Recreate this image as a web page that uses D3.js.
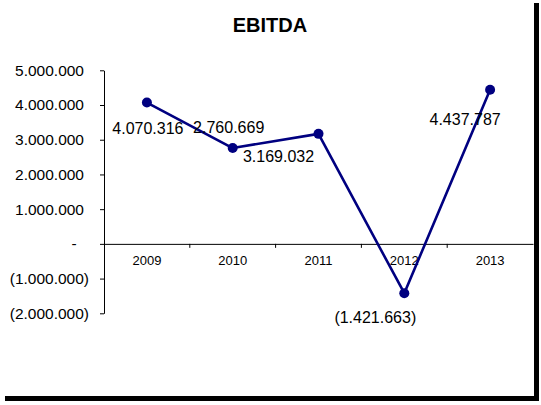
<!DOCTYPE html>
<html>
<head>
<meta charset="utf-8">
<script src="https://cdn.jsdelivr.net/npm/d3@7"></script>
<style>
  html, body { margin: 0; padding: 0; background: #fff; }
  svg { display: block; }
  text { font-family: "Liberation Sans", Arial, sans-serif; fill: #000; }
</style>
</head>
<body>
<svg id="chart" width="541" height="405"></svg>
<script>
// EBITDA per year
const years = ["2009", "2010", "2011", "2012", "2013"];
const ebitda = [4070316, 2760669, 3169032, -1421663, 4437787];
const yTicks = [5000000, 4000000, 3000000, 2000000, 1000000, 0, -1000000, -2000000];
const chartTitle = "EBITDA";

const svg = d3.select("#chart");

// chart area with drop shadow
svg.append("rect").attr("x", 5).attr("y", 3).attr("width", 534).attr("height", 398).attr("fill", "#000");
svg.append("rect").attr("x", 0).attr("y", 0).attr("width", 534).attr("height", 396).attr("fill", "#fff");

const plot = { left: 104, right: 533, top: 70.3, bottom: 313.3 };

const x = d3.scaleBand().domain(years).range([plot.left, plot.right]).padding(0);
const y = d3.scaleLinear().domain([-2000000, 5000000]).range([plot.bottom, plot.top]);

// accounting-style number format: 1.000.000, (1.000.000), -
const thousands = d3.formatLocale({ decimal: ",", thousands: ".", grouping: [3], currency: ["", ""] }).format(",.0f");
function acct(v) {
  if (v === 0) return "-";
  return v < 0 ? "(" + thousands(-v) + ")" : thousands(v);
}

// title
svg.append("text")
  .attr("x", 270).attr("y", 32)
  .attr("text-anchor", "middle")
  .style("font-size", "20px").style("font-weight", "bold")
  .text(chartTitle);

// y axis
const yAxis = d3.axisLeft(y).tickValues(yTicks).tickSize(4).tickSizeOuter(0).tickFormat("");
const gy = svg.append("g").attr("transform", `translate(${plot.left},0)`).call(yAxis);
gy.select(".domain").attr("stroke", "#000").attr("stroke-width", 1);
gy.selectAll(".tick line").attr("stroke", "#000");

// y tick labels with accounting alignment
svg.append("g").selectAll("text")
  .data(yTicks)
  .join("text")
  .attr("x", d => d === 0 ? 74 : (d < 0 ? 89 : 84))
  .attr("y", d => y(d))
  .attr("dy", "0.35em")
  .attr("text-anchor", d => d === 0 ? "middle" : "end")
  .style("font-size", "15.5px")
  .text(acct);

// x axis at zero
const xAxis = d3.axisBottom(x).tickSize(0).tickSizeOuter(0);
const gx = svg.append("g").attr("transform", `translate(0,${y(0)})`).call(xAxis);
gx.select(".domain").attr("stroke", "#000").attr("stroke-width", 1);
gx.selectAll(".tick text")
  .attr("y", 12)
  .style("font-size", "13px")
  .style("font-family", "'Liberation Sans', Arial, sans-serif");

// tick marks between categories
gx.selectAll(".sep")
  .data(years.slice(1))
  .join("line")
  .attr("class", "sep")
  .attr("x1", d => x(d)).attr("x2", d => x(d))
  .attr("y1", 0).attr("y2", 4)
  .attr("stroke", "#000");

const cx = (d, i) => x(years[i]) + x.bandwidth() / 2;

// line
const line = d3.line().x((d, i) => cx(d, i)).y(d => y(d));
svg.append("path")
  .datum(ebitda)
  .attr("d", line)
  .attr("fill", "none")
  .attr("stroke", "#000080")
  .attr("stroke-width", 2.6)
  .attr("stroke-linejoin", "round");

// markers
svg.append("g").selectAll("circle")
  .data(ebitda)
  .join("circle")
  .attr("cx", cx)
  .attr("cy", d => y(d))
  .attr("r", 5)
  .attr("fill", "#000080");

// value labels, nudged around each marker
const nudge = [[1, 26], [-4, -21], [-40, 23], [-29, 24], [-25, 30]];
svg.append("g").selectAll("text")
  .data(ebitda)
  .join("text")
  .attr("x", (d, i) => cx(d, i) + nudge[i][0])
  .attr("y", (d, i) => y(d) + nudge[i][1])
  .attr("dy", "0.35em")
  .attr("text-anchor", "middle")
  .style("font-size", "16px")
  .text(acct);
</script>
</body>
</html>
